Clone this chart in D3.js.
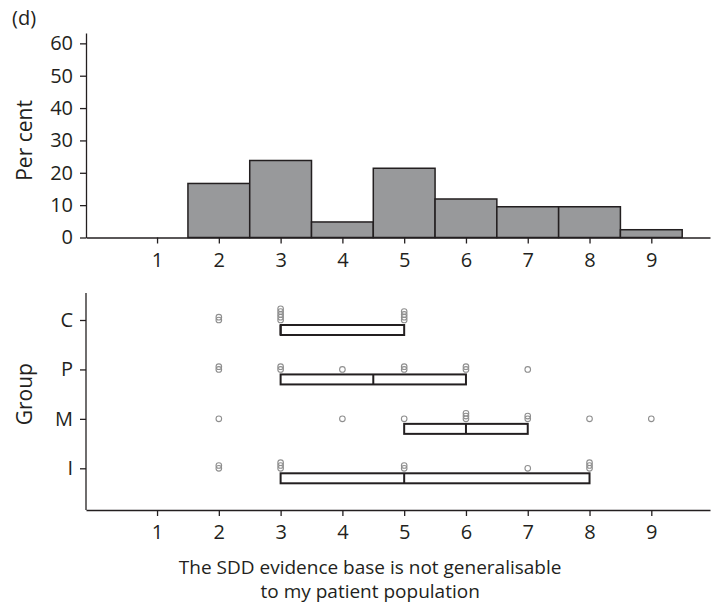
<!DOCTYPE html>
<html>
<head>
<meta charset="utf-8">
<script src="https://cdn.jsdelivr.net/npm/d3@7"></script>
<style>
  html, body { margin: 0; padding: 0; background: #fff; }
  svg { display: block; }
  text { font-family: "Open Sans", "DejaVu Sans", sans-serif; fill: #231f20; }
</style>
</head>
<body>
<svg id="chart" width="714" height="603"></svg>
<script>
// ---------- data ----------
const scoreValues = [1, 2, 3, 4, 5, 6, 7, 8, 9];
const histPercent = [0, 16.7, 23.8, 4.8, 21.4, 11.9, 9.5, 9.5, 2.4];
const yTicksHist = [0, 10, 20, 30, 40, 50, 60];
const groups = ["C", "P", "M", "I"];
// counts of responses per score (1..9) in each group
const countsC = [0, 2, 5, 0, 4, 0, 0, 0, 0];
const countsP = [0, 2, 2, 1, 2, 2, 1, 0, 0];
const countsM = [0, 1, 0, 1, 1, 3, 2, 1, 1];
const countsI = [0, 2, 3, 0, 2, 0, 1, 3, 0];
// box statistics: lower quartile, median, upper quartile
const boxQ1 = [3, 3, 5, 3];
const boxMedian = [3, 4.5, 6, 5];
const boxQ3 = [5, 6, 7, 8];
const xTitle = ["The SDD evidence base is not generalisable", "to my patient population"];

// ---------- layout ----------
const svg = d3.select("#chart");
const left = 86, right = 710;
const x = d3.scaleLinear().domain([-0.15, 9.95]).range([left, right]);

const histBottom = 237.5, histTop = 33;
const yH = d3.scaleLinear().domain([0, 63.2]).range([histBottom, histTop]);

const dotTop = 293, dotBottom = 510;
const yG = d3.scalePoint().domain(groups).range([320, 468.3]);

const ink = "#231f20";
const fs = 20;

// ---------- histogram ----------
const gH = svg.append("g");
gH.selectAll("rect.bar")
  .data(scoreValues.map((v, i) => ({ v, p: histPercent[i] })).filter(d => d.p > 0))
  .enter().append("rect")
  .attr("class", "bar")
  .attr("x", d => x(d.v - 0.5))
  .attr("width", d => x(d.v + 0.5) - x(d.v - 0.5))
  .attr("y", d => yH(d.p))
  .attr("height", d => yH(0) - yH(d.p))
  .attr("fill", "#98999b")
  .attr("stroke", ink)
  .attr("stroke-width", 1.5);

const yAxisH = d3.axisLeft(yH).tickValues(yTicksHist).tickSize(6).tickSizeOuter(0).tickPadding(7);
const gyH = svg.append("g").attr("transform", `translate(${left},0)`).call(yAxisH);
const xAxisH = d3.axisBottom(x).tickValues(scoreValues).tickSize(6).tickSizeOuter(0).tickPadding(9);
const gxH = svg.append("g").attr("transform", `translate(0,${histBottom})`).call(xAxisH);

// ---------- dot + box plot ----------
const countsAll = [countsC, countsP, countsM, countsI];
const dots = [];
groups.forEach((g, gi) => {
  countsAll[gi].forEach((n, vi) => {
    for (let k = 0; k < n; k++) dots.push({ g, v: scoreValues[vi], k });
  });
});
const gD = svg.append("g");
gD.selectAll("circle")
  .data(dots).enter().append("circle")
  .attr("cx", d => x(d.v))
  .attr("cy", d => yG(d.g) - d.k * 2.8)
  .attr("r", 2.8)
  .attr("fill", "none")
  .attr("stroke", "#8f8f8f")
  .attr("stroke-width", 1.1);

const boxes = groups.map((g, i) => ({ g, q1: boxQ1[i], med: boxMedian[i], q3: boxQ3[i] }));
const gB = svg.append("g");
gB.selectAll("rect.box")
  .data(boxes).enter().append("rect")
  .attr("class", "box")
  .attr("x", d => x(d.q1))
  .attr("width", d => x(d.q3) - x(d.q1))
  .attr("y", d => yG(d.g) + 5)
  .attr("height", 10)
  .attr("fill", "none")
  .attr("stroke", ink)
  .attr("stroke-width", 2);
gB.selectAll("line.med")
  .data(boxes).enter().append("line")
  .attr("class", "med")
  .attr("x1", d => x(d.med)).attr("x2", d => x(d.med))
  .attr("y1", d => yG(d.g) + 5).attr("y2", d => yG(d.g) + 15)
  .attr("stroke", ink)
  .attr("stroke-width", 2);

const yAxisG = d3.axisLeft(yG).tickSize(6).tickSizeOuter(0).tickPadding(7);
const gyG = svg.append("g").attr("transform", `translate(${left},0)`).call(yAxisG);
gyG.select(".domain").remove();
gyG.append("line").attr("x1", 0).attr("x2", 0).attr("y1", dotTop).attr("y2", dotBottom)
  .attr("stroke", ink).attr("stroke-width", 1.3);

const gxG = svg.append("g").attr("transform", `translate(0,${dotBottom})`).call(xAxisH);

// ---------- axis styling ----------
[gyH, gxH, gyG, gxG].forEach(g => {
  g.selectAll(".domain").attr("stroke", ink).attr("stroke-width", 1.3);
  g.selectAll(".tick line").attr("stroke", ink).attr("stroke-width", 1.3);
  g.selectAll(".tick text").attr("font-size", fs).attr("fill", ink)
    .style("font-family", '"Open Sans", "DejaVu Sans", sans-serif');
});

// ---------- titles ----------
svg.append("text").attr("x", 12).attr("y", 25).attr("font-size", fs).text("(d)");
svg.append("text")
  .attr("transform", `translate(32,${yH(30)}) rotate(-90)`)
  .attr("text-anchor", "middle").attr("font-size", 21).text("Per cent");
svg.append("text")
  .attr("transform", `translate(32,${(yG("P") + yG("M")) / 2}) rotate(-90)`)
  .attr("text-anchor", "middle").attr("font-size", 21).text("Group");
svg.selectAll("text.xt").data(xTitle).enter().append("text")
  .attr("class", "xt")
  .attr("x", (x(1) + x(9)) / 2 - 34)
  .attr("y", (d, i) => 574 + i * 24)
  .attr("text-anchor", "middle").attr("font-size", 19)
  .text(d => d);
</script>
</body>
</html>
